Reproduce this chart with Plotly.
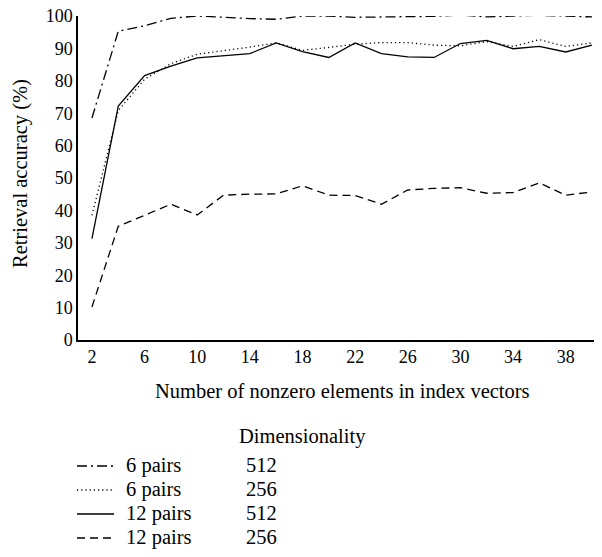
import plotly.graph_objects as go

x_vals = list(range(2, 41, 2))
six_512 = [68.5, 95.3, 97.0, 99.3, 100.0, 99.5, 99.2, 99.0, 100.0, 100.0,
           99.6, 99.7, 99.7, 99.9, 100.3, 99.7, 100.0, 100.2, 100.0, 99.7]
six_256 = [38.5, 70.8, 80.5, 85.3, 88.2, 89.2, 90.4, 91.7, 89.4, 90.3,
           91.3, 91.8, 91.8, 91.0, 90.8, 92.1, 90.6, 92.7, 90.6, 91.7]
twelve_512 = [31.3, 72.2, 81.6, 84.5, 87.1, 87.7, 88.4, 91.7, 89.0, 87.2,
              91.7, 88.4, 87.4, 87.2, 91.5, 92.5, 89.9, 90.6, 88.9, 91.0]
twelve_256 = [10.2, 35.1, 38.5, 41.9, 38.6, 44.7, 45.0, 45.1, 47.6, 44.7,
              44.6, 41.9, 46.3, 46.8, 47.0, 45.3, 45.5, 48.5, 44.7, 45.7]

series_names = ["6 pairs", "6 pairs", "12 pairs", "12 pairs"]
dims = ["512", "256", "512", "256"]
series_vals = [six_512, six_256, twelve_512, twelve_256]
dashes = ["10px,4px,2px,4px", "1.2px,3px", "solid", "8px,5px"]

x_ticks = list(range(2, 39, 4))
y_ticks = list(range(0, 101, 10))

FONT = "'Liberation Serif', 'DejaVu Serif', serif"
FS_TICK = 18
FS = 20.5

fig = go.Figure()
for name, d, vals, dash in zip(series_names, dims, series_vals, dashes):
    fig.add_trace(go.Scatter(x=x_vals, y=vals, mode="lines",
                             name=f"{name} {d}",
                             line=dict(color="black", width=1.3, dash=dash),
                             showlegend=False))

# page has 8px body offset; plot area in reference pixels: x 78..602, y 16..340
OFF = 8
L, R, T, B = 78, 602, 16, 340
W, H = R - L, B - T

def px(xp):
    return (xp - L) / W

def py(yp):
    return (B - yp) / H

annotations = [
    dict(text="Number of nonzero elements in index vectors", x=px(342.5), y=py(391),
         xref="paper", yref="paper", showarrow=False, xanchor="center", yanchor="middle",
         font=dict(family=FONT, size=FS, color="black")),
    dict(text="Retrieval accuracy (%)", x=px(21), y=py(174), textangle=-90,
         xref="paper", yref="paper", showarrow=False, xanchor="center", yanchor="middle",
         font=dict(family=FONT, size=FS, color="black")),
    dict(text="Dimensionality", x=px(237), y=py(436),
         xref="paper", yref="paper", showarrow=False, xanchor="left", yanchor="middle",
         font=dict(family=FONT, size=FS, color="black")),
]
shapes = []
row_y = [466, 490, 514, 538]
for i, (name, d, dash) in enumerate(zip(series_names, dims, dashes)):
    yy = row_y[i]
    shapes.append(dict(type="line", xref="paper", yref="paper",
                       x0=px(77), x1=px(114), y0=py(yy), y1=py(yy),
                       line=dict(color="black", width=1.3, dash=dash)))
    annotations.append(dict(text=name, x=px(124), y=py(yy - 1), xref="paper", yref="paper",
                            showarrow=False, xanchor="left", yanchor="middle",
                            font=dict(family=FONT, size=FS, color="black")))
    annotations.append(dict(text=d, x=px(244), y=py(yy - 1), xref="paper", yref="paper",
                            showarrow=False, xanchor="left", yanchor="middle",
                            font=dict(family=FONT, size=FS, color="black")))

fig.update_layout(
    width=602, height=557,
    margin=dict(l=L - OFF, r=602 - R + OFF, t=T - OFF, b=557 - B + OFF, pad=0,
                autoexpand=False),
    paper_bgcolor="white", plot_bgcolor="white",
    font=dict(family=FONT, size=FS, color="black"),
    xaxis=dict(range=[0.94, 40.76], tickvals=x_ticks, ticktext=[str(v) for v in x_ticks],
               showgrid=False, zeroline=False, showline=True, linecolor="black", linewidth=1.5,
               ticks="", automargin=False,
               tickfont=dict(family=FONT, size=FS_TICK, color="black")),
    yaxis=dict(range=[0, 100], tickvals=y_ticks, ticktext=[str(v) for v in y_ticks],
               showgrid=False, zeroline=False, showline=True, linecolor="black", linewidth=1.5,
               ticks="", ticklabeloverflow="allow", automargin=False,
               tickfont=dict(family=FONT, size=FS_TICK, color="black")),
    annotations=annotations, shapes=shapes,
)
fig.write_html("out.html")
